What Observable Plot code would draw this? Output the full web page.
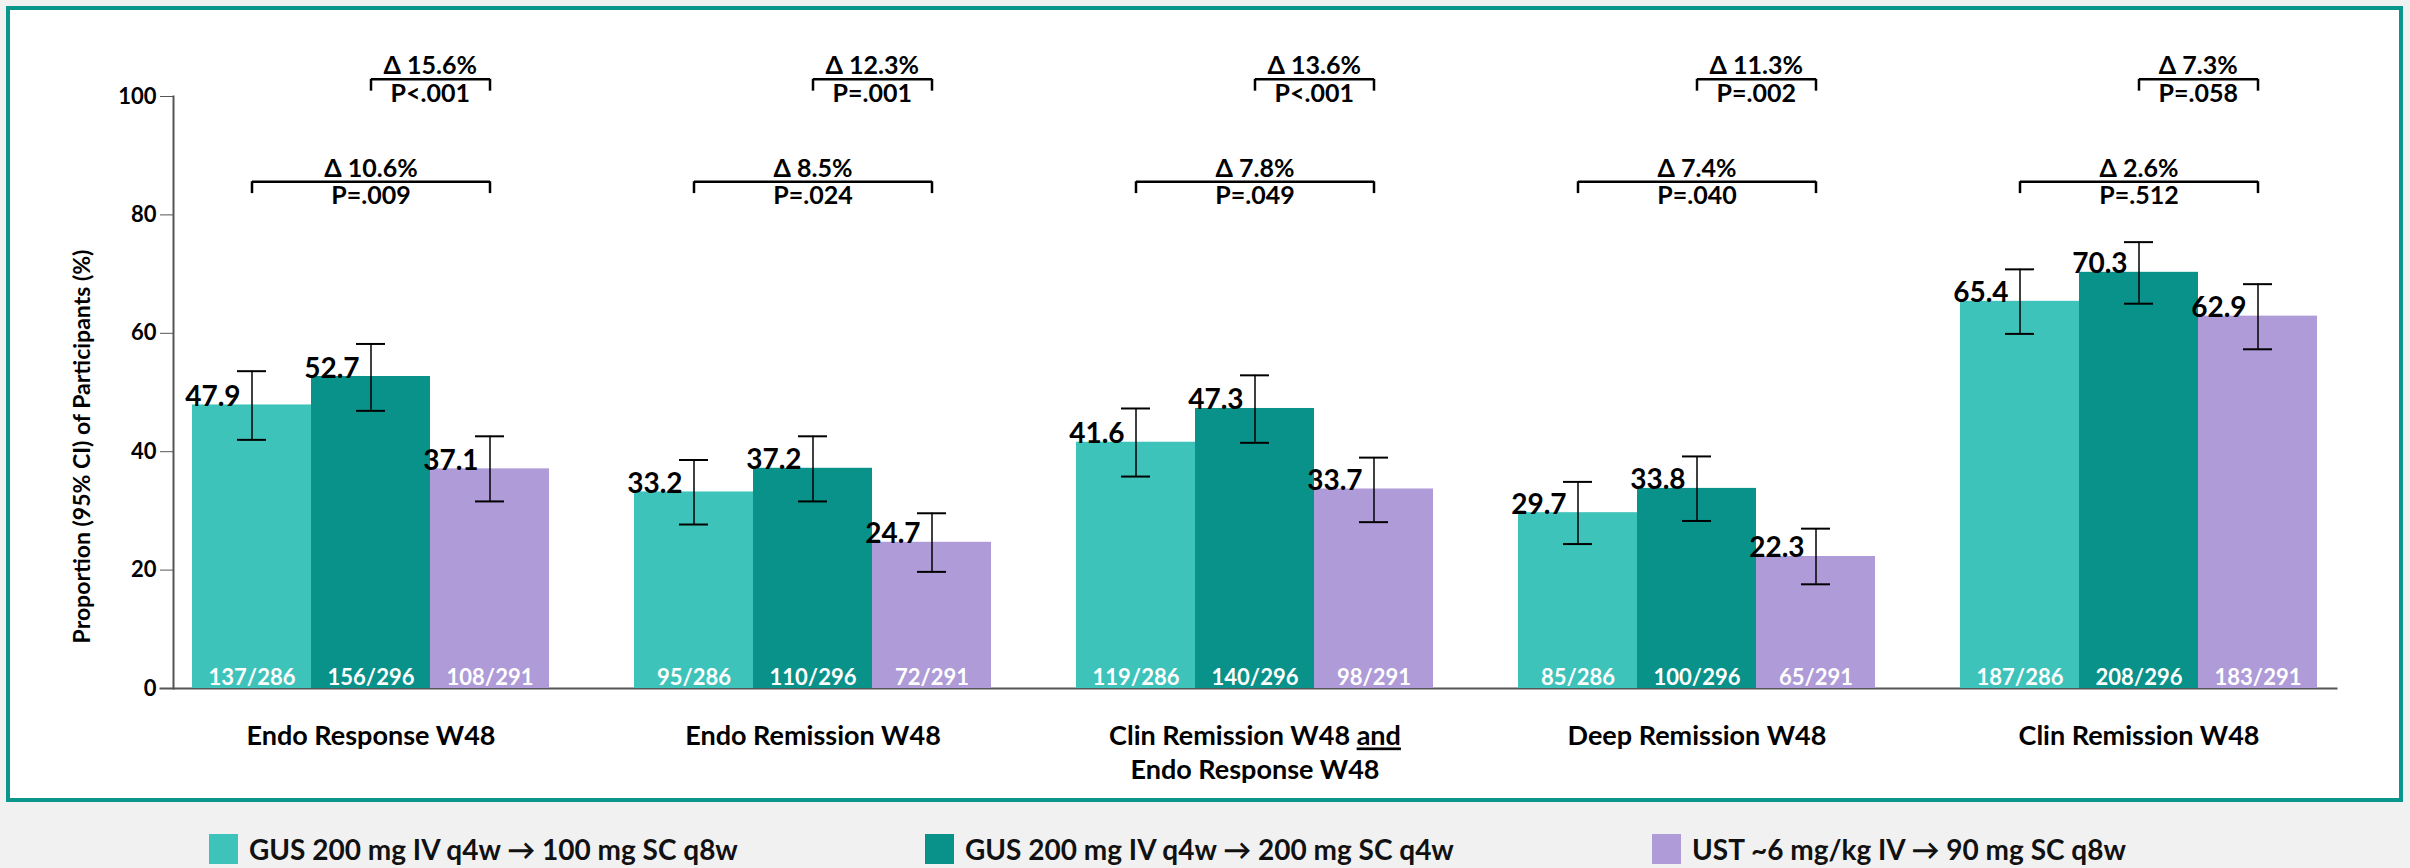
<!DOCTYPE html>
<html>
<head>
<meta charset="utf-8">
<script src="https://cdn.jsdelivr.net/npm/d3@7"></script>
<script src="https://cdn.jsdelivr.net/npm/@observablehq/plot@0.6"></script>
<style>
  html, body { margin: 0; padding: 0; background: #f1f1f1; width: 2410px; height: 868px; overflow: hidden; }
  body { position: relative; font-family: Lato, "Open Sans", sans-serif; }
  #panel { position: absolute; left: 6px; top: 6px; width: 2397px; height: 796px; box-sizing: border-box;
           border: 4px solid #0b968b; background: #fff; }
  #chart { position: absolute; left: 0; top: 0; }
  #chart svg { overflow: visible; }
  #chart [aria-label="y-axis tick label"], #chart [aria-label="y-axis tick label"] text { font-size: 22px; font-weight: 700; }
  #chart [aria-label="y-axis label"], #chart [aria-label="y-axis label"] text { font-size: 23px; font-weight: 700; }
  #legend { position: absolute; top: 834px; left: 0; width: 2410px; height: 30px; }
  .item { position: absolute; top: 0; height: 30px; display: flex; align-items: center; }
  .swatch { width: 29px; height: 30px; margin-right: 11px; }
  .label { font-size: 28px; font-weight: 700; color: #111; white-space: nowrap; line-height: 30px; }
</style>
</head>
<body>
<div id="panel"></div>
<div id="chart"></div>
<div id="legend"></div>
<script>
// Outcomes at week 48
const categories = [
  "Endo Response W48",
  "Endo Remission W48",
  "Clin Remission W48 and\nEndo Response W48",
  "Deep Remission W48",
  "Clin Remission W48"
];

// Treatment arms
const arms = [
  "GUS 200 mg IV q4w \u2192 100 mg SC q8w",
  "GUS 200 mg IV q4w \u2192 200 mg SC q4w",
  "UST ~6 mg/kg IV \u2192 90 mg SC q8w"
];
const armColors = ["#3ec3bb", "#09928a", "#af9bd7"];

// Proportions (%) per outcome, one array per arm
const gus100 = [47.9, 33.2, 41.6, 29.7, 65.4];
const gus200 = [52.7, 37.2, 47.3, 33.8, 70.3];
const ust    = [37.1, 24.7, 33.7, 22.3, 62.9];

// 95% confidence intervals
const gus100Low  = [42.0, 27.7, 35.8, 24.4, 59.9];
const gus100High = [53.6, 38.6, 47.3, 34.9, 70.8];
const gus200Low  = [46.9, 31.6, 41.5, 28.3, 65.0];
const gus200High = [58.2, 42.6, 52.9, 39.2, 75.4];
const ustLow     = [31.6, 19.7, 28.1, 17.6, 57.3];
const ustHigh    = [42.6, 29.6, 39.0, 27.0, 68.3];

// Responders / participants
const gus100Resp = [137, 95, 119, 85, 187];
const gus200Resp = [156, 110, 140, 100, 208];
const ustResp    = [108, 72, 98, 65, 183];
const armN = [286, 296, 291];

// Differences versus UST
const deltaGus200 = [15.6, 12.3, 13.6, 11.3, 7.3];
const pGus200     = ["<.001", "=.001", "<.001", "=.002", "=.058"];
const deltaGus100 = [10.6, 8.5, 7.8, 7.4, 2.6];
const pGus100     = ["=.009", "=.024", "=.049", "=.040", "=.512"];

// Bracket heights, in axis units
const upperBracketLevel = 102.9;
const lowerBracketLevel = 85.6;

const yLabel = "Proportion (95% CI) of Participants (%)";
const yTicks = [0, 20, 40, 60, 80, 100];

// ---- tidy tables built from the arrays above ----
const values = [gus100, gus200, ust];
const lows = [gus100Low, gus200Low, ustLow];
const highs = [gus100High, gus200High, ustHigh];
const resp = [gus100Resp, gus200Resp, ustResp];

const bars = [];
categories.forEach((cat, i) => {
  arms.forEach((arm, j) => {
    bars.push({cat, arm, value: values[j][i], lo: lows[j][i], hi: highs[j][i],
               count: `${resp[j][i]}/${armN[j]}`});
  });
});

const brackets = [];
categories.forEach((cat, i) => {
  brackets.push({cat, from: arms[1], to: arms[2], mid: arms[2], level: upperBracketLevel,
                 delta: deltaGus200[i], p: pGus200[i], kind: "upper"});
  brackets.push({cat, from: arms[0], to: arms[2], mid: arms[1], level: lowerBracketLevel,
                 delta: deltaGus100[i], p: pGus100[i], kind: "lower"});
});
const bracketEnds = brackets.flatMap(b => [{cat: b.cat, x: b.from, level: b.level}, {cat: b.cat, x: b.to, level: b.level}]);
const upper = brackets.filter(b => b.kind === "upper");
const lower = brackets.filter(b => b.kind === "lower");

const tickUnits = 2.0;   // length of bracket end ticks
const halfBand = 59.8;   // half a bar width in px

const deltaText = d => `\u0394 ${d.delta.toFixed(1)}%`;
const pText = d => `P${d.p}`;
const bracketFont = {fontSize: 25, fontWeight: "bold", fill: "#000"};

const chart = Plot.plot({
  width: 2410,
  height: 800,
  marginLeft: 171,
  marginRight: 71,
  marginTop: 96,
  marginBottom: 112,
  style: {fontFamily: "Lato, 'Open Sans', sans-serif", fontWeight: "bold", background: "transparent", color: "#000", overflow: "visible"},
  fx: {domain: categories, paddingInner: 0.106, paddingOuter: 0, label: null, axis: null},
  x: {domain: arms, paddingInner: 0, paddingOuter: 0.155, axis: null},
  y: {domain: [0, 100], axis: null},
  color: {domain: arms, range: armColors},
  marks: [
    Plot.frame({anchor: "left", facet: "super", stroke: "#555", strokeWidth: 2}),
    Plot.frame({anchor: "bottom", facet: "super", stroke: "#555", strokeWidth: 2, insetLeft: -13}),
    Plot.axisY({ticks: yTicks, tickSize: 13, tickPadding: 4, stroke: "#555",
                fontSize: 22, fontWeight: "bold", label: yLabel, labelAnchor: "center",
                labelArrow: "none", labelOffset: 100}),
    Plot.axisFx({anchor: "bottom", tickSize: 0, tickPadding: 33, fontSize: 27, fontWeight: "bold",
                 lineHeight: 1.25, label: null}),
    Plot.barY(bars, {fx: "cat", x: "arm", y: "value", fill: "arm"}),
    Plot.ruleX(bars, {fx: "cat", x: "arm", y1: "lo", y2: "hi", stroke: "#000", strokeWidth: 1.5}),
    Plot.tickY(bars, {fx: "cat", x: "arm", y: "lo", insetLeft: 45, insetRight: 45, stroke: "#000", strokeWidth: 2}),
    Plot.tickY(bars, {fx: "cat", x: "arm", y: "hi", insetLeft: 45, insetRight: 45, stroke: "#000", strokeWidth: 2}),
    Plot.text(bars, {fx: "cat", x: "arm", y: "value", text: d => d.value.toFixed(1), textAnchor: "start",
                     dx: -(halfBand + 7), lineAnchor: "bottom", dy: 1, fontSize: 28, fontWeight: "bold", fill: "#000"}),
    Plot.text(bars, {fx: "cat", x: "arm", y: 0, text: "count", lineAnchor: "bottom", dy: -4,
                     fontSize: 22, fontWeight: "bold", fill: "#fff"}),
    // comparison brackets
    Plot.link(brackets, {fx: "cat", x1: "from", x2: "to", y1: "level", y2: "level", stroke: "#000", strokeWidth: 2.5}),
    Plot.ruleX(bracketEnds, {fx: "cat", x: "x", y1: "level", y2: d => d.level - tickUnits, stroke: "#000", strokeWidth: 2.5}),
    Plot.text(upper, {fx: "cat", x: "mid", y: "level", dx: -halfBand, dy: -5, lineAnchor: "bottom", text: deltaText, ...bracketFont}),
    Plot.text(upper, {fx: "cat", x: "mid", y: "level", dx: -halfBand, dy: 5, lineAnchor: "top", text: pText, ...bracketFont}),
    Plot.text(lower, {fx: "cat", x: "mid", y: "level", dy: -5, lineAnchor: "bottom", text: deltaText, ...bracketFont}),
    Plot.text(lower, {fx: "cat", x: "mid", y: "level", dy: 5, lineAnchor: "top", text: pText, ...bracketFont})
  ]
});
document.getElementById("chart").appendChild(chart);

// nudge the y-axis title a little below the frame's midline
const yTitle = chart.querySelector('[aria-label="y-axis label"]');
if (yTitle) {
  const t = yTitle.getAttribute("transform") || "";
  yTitle.setAttribute("transform", `${t} translate(0,54)`.trim());
}

// underline the conjunction in the combined outcome label
chart.querySelectorAll("tspan").forEach(t => {
  if (t.textContent === "Clin Remission W48 and") {
    t.textContent = "Clin Remission W48 ";
    const u = document.createElementNS("http://www.w3.org/2000/svg", "tspan");
    u.textContent = "and";
    u.setAttribute("text-decoration", "underline");
    u.style.textDecoration = "underline";
    t.appendChild(u);
  }
});

// legend
const legendLeft = [209, 925, 1652];
const legend = document.getElementById("legend");
arms.forEach((arm, j) => {
  const item = document.createElement("div");
  item.className = "item";
  item.style.left = legendLeft[j] + "px";
  item.innerHTML = `<div class="swatch" style="background:${armColors[j]}"></div><span class="label"></span>`;
  item.querySelector(".label").textContent = arm;
  legend.appendChild(item);
});
</script>
</body>
</html>
